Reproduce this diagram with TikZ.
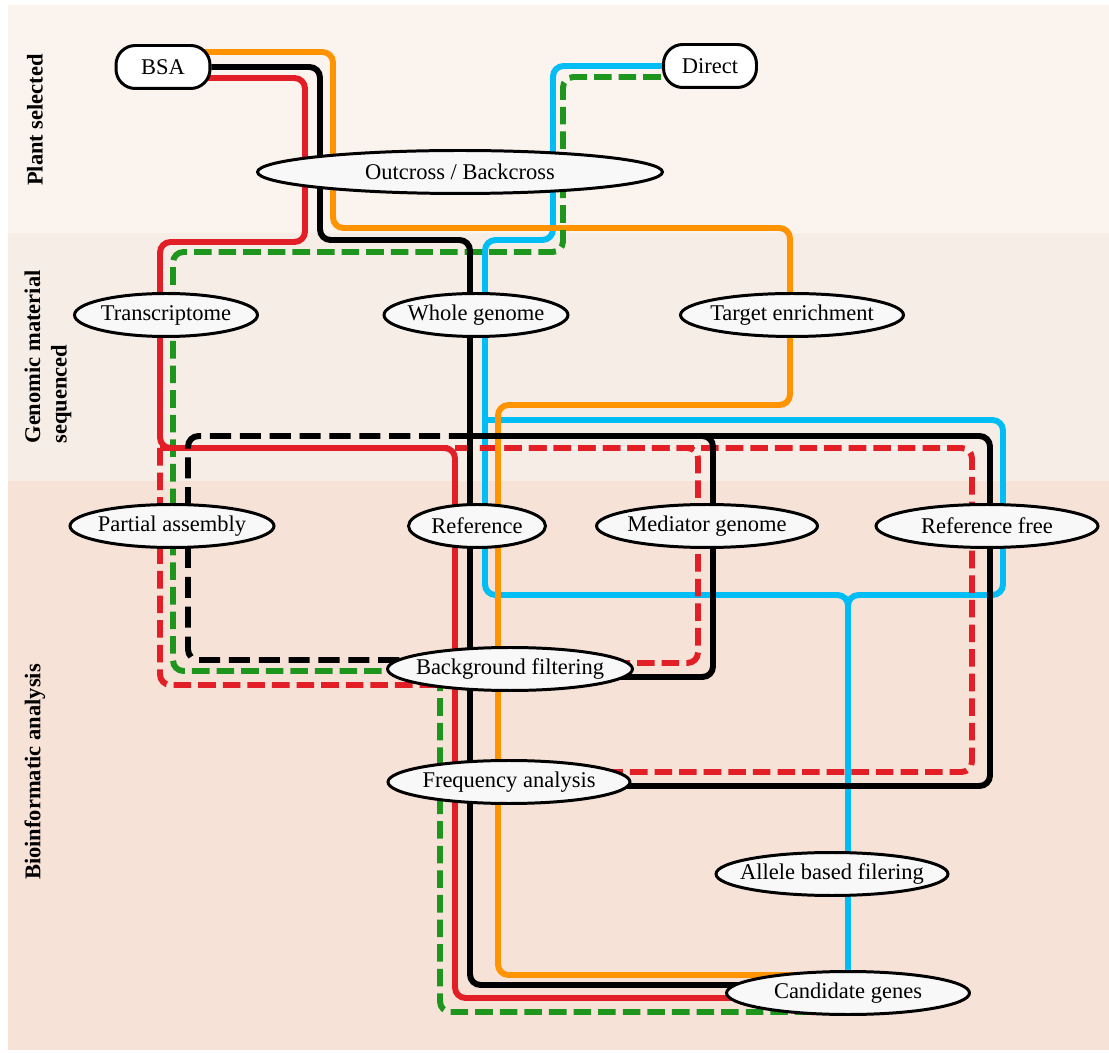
\documentclass[tikz,border=0pt]{standalone}
\usepackage{fontspec}
\setmainfont{Liberation Serif}
\usetikzlibrary{calc,shapes.geometric}
\pgfdeclarelayer{bands}
\pgfdeclarelayer{lines}
\pgfsetlayers{bands,lines,main}
\definecolor{bandA}{RGB}{251,243,238}
\definecolor{bandB}{RGB}{246,237,231}
\definecolor{bandC}{RGB}{246,226,214}
\definecolor{nodefill}{RGB}{248,248,248}
\definecolor{lnorange}{RGB}{255,148,0}
\definecolor{lnred}{RGB}{226,30,38}
\definecolor{lngreen}{RGB}{30,150,30}
\definecolor{lncyan}{RGB}{0,190,245}

\begin{document}
\begin{tikzpicture}[x=0.02cm, y=-0.02cm,
    every node/.style={font=\fontsize{12.8}{15}\selectfont},
    start node/.style={rectangle, rounded corners=11pt, draw=black, line width=1.7pt, fill=white, minimum height=0.86cm},
    step node/.style={ellipse, draw=black, line width=1.7pt, fill=nodefill, inner xsep=-6pt, inner ysep=0pt, minimum height=0.86cm},
    stage label/.style={rotate=90, align=left, font=\fontsize{12.8}{15}\selectfont\bfseries},
    route/.style={line width=3.4pt, rounded corners=6pt},
    dash line/.style={dash pattern=on 10pt off 4pt},
    long dash line/.style={dash pattern=on 12pt off 5pt}
]
    \useasboundingbox (0,0) rectangle (1109,1053);

    % stages
    \begin{pgfonlayer}{bands}
        \fill[bandA] (8,5) rectangle (1109,233);
        \fill[bandB] (8,233) rectangle (1109,481);
        \fill[bandC] (8,481) rectangle (1109,1050);
    \end{pgfonlayer}
    \node[stage label] (lbl-plant) at (35,120) {Plant selected};
    \node[stage label] (lbl-genomic) at (48,357) {Genomic material\\sequenced};
    \node[stage label] (lbl-bioinf) at (35,772) {Bioinformatic analysis};

    % steps
    \node[start node, minimum width=1.88cm] (bsa) at (163,67) {BSA};
    \node[start node, minimum width=1.86cm] (direct) at (710,66) {Direct};
    \node[step node, minimum width=8.1cm] (outcross) at (460,172) {Outcross / Backcross};
    \node[step node, minimum width=3.66cm] (transcriptome) at (166,315) {Transcriptome};
    \node[step node, minimum width=3.68cm] (wholegenome) at (476,315) {Whole genome};
    \node[step node, minimum width=4.46cm] (target) at (792,315) {Target enrichment};
    \node[step node, minimum width=4.08cm] (partial) at (172,526) {Partial assembly};
    \node[step node, minimum width=2.74cm] (reference) at (477,526) {Reference};
    \node[step node, minimum width=4.42cm] (mediator) at (707,526) {Mediator genome};
    \node[step node, minimum width=4.44cm] (reffree) at (987,526) {Reference free};
    \node[step node, minimum width=4.9cm] (bf) at (510,669) {Background filtering};
    \node[step node, minimum width=4.84cm] (fa) at (509,782) {Frequency analysis};
    \node[step node, minimum width=4.64cm] (allele) at (832,874) {Allele based filering};
    \node[step node, minimum width=4.86cm] (cand) at (848,993) {Candidate genes};

    % split points
    \coordinate (blk-split) at (470,436);
    \coordinate (red-split) at (160,448);
    \coordinate (cyan-split) at (485,420);

    % routes
    \begin{pgfonlayer}{lines}
        \draw[route, lncyan] (direct) -| (553,240) -| (cyan-split) |- (848,595) -- (cand);
        \draw[route, lncyan] (cyan-split) -| (1003,595) -| (cand);

        \draw[route, lnred, dash line] (red-split) |- ($(bf)+(0,16)$);
        \draw[route, lnred, dash line] (red-split) -| (698,663) -- ($(bf)+(0,-6)$);
        \draw[route, lnred, dash line] (red-split) -| (972,772) -- ($(fa)+(0,-10)$);

        \draw[route, lnorange] ($(bsa)+(0,-15)$) -| (333,228) -| (790,405) -| (498,975) -- ($(cand)+(0,-18)$);

        \draw[route, lngreen, dash line] ($(direct)+(0,11)$) -| (563,252) -| (173,671) -| (440,1012) -- ($(cand)+(0,19)$);

        \draw[route, lnred] ($(bsa)+(0,11)$) -| (305,242) -| (red-split) -| (455,998) -- ($(cand)+(0,5)$);

        \draw[route, long dash line] (blk-split) -| (188,660) -- ($(bf)+(0,-9)$);

        \draw[route] (bsa) -| (320,240) -| (blk-split) |- ($(cand)+(0,-8)$);
        \draw[route] (blk-split) -| (713,677) -- ($(bf)+(0,8)$);
        \draw[route] (blk-split) -| (990,786) -- ($(fa)+(0,4)$);
    \end{pgfonlayer}
\end{tikzpicture}
\end{document}
